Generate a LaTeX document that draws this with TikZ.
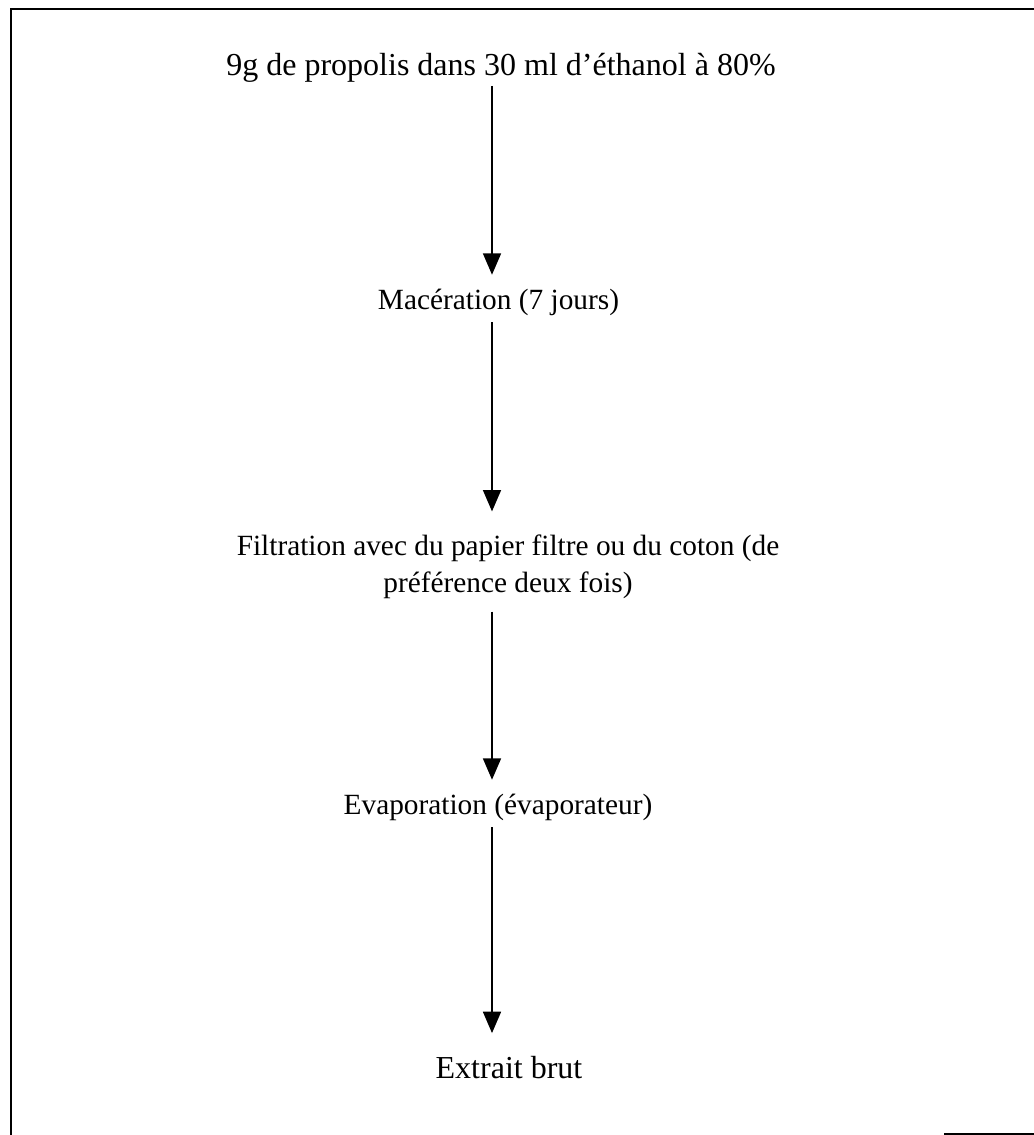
\documentclass[tikz,border=0pt]{standalone}
\usepackage{fontspec}
\setmainfont{Liberation Serif}
\usetikzlibrary{arrows.meta}
\begin{document}
\begin{tikzpicture}[x=0.75pt,y=-0.75pt,
  lbl/.style={inner sep=0pt, text height=16.5pt, text depth=5pt, align=center},
  big/.style={font=\fontsize{24}{29}\selectfont},
  mid/.style={font=\fontsize{22}{27.75}\selectfont},
  arr/.style={line width=1.1pt, -{Triangle[width=13.5pt,length=16pt]}},
  frame/.style={line width=1.5pt}]
\useasboundingbox (0,0) rectangle (1034,1135);
\draw[frame] (10,9) -- (1034,9);
\draw[frame] (11,9) -- (11,1135);
\draw[frame] (944,1133.5) -- (1034,1133.5);
\coordinate (ax) at (492,0);
\node[lbl,big,anchor=base] (t1) at (501,75) {9g de propolis dans 30 ml d'éthanol à 80\%};
\node[lbl,mid,anchor=base] (t2) at (498.5,309) {Macération (7 jours)};
\node[lbl,mid,text height=44.25pt] (t3) at (508,566.5) {Filtration avec du papier filtre ou du coton (de\\préférence deux fois)};
\node[lbl,mid,anchor=base] (t4) at (498,814) {Evaporation (évaporateur)};
\node[lbl,big,anchor=base] (t5) at (509,1078) {Extrait brut};
\draw[arr, shorten <=3pt, shorten >=9pt] (t1.south -| ax) -- (t2.north -| ax);
\draw[arr, shorten <=4.7pt, shorten >=16.5pt] (t2.south -| ax) -- (t3.north -| ax);
\draw[arr, shorten <=9pt, shorten >=9pt] (t3.south -| ax) -- (t4.north -| ax);
\draw[arr, shorten <=4.7pt, shorten >=17pt] (t4.south -| ax) -- (t5.north -| ax);
\end{tikzpicture}
\end{document}
